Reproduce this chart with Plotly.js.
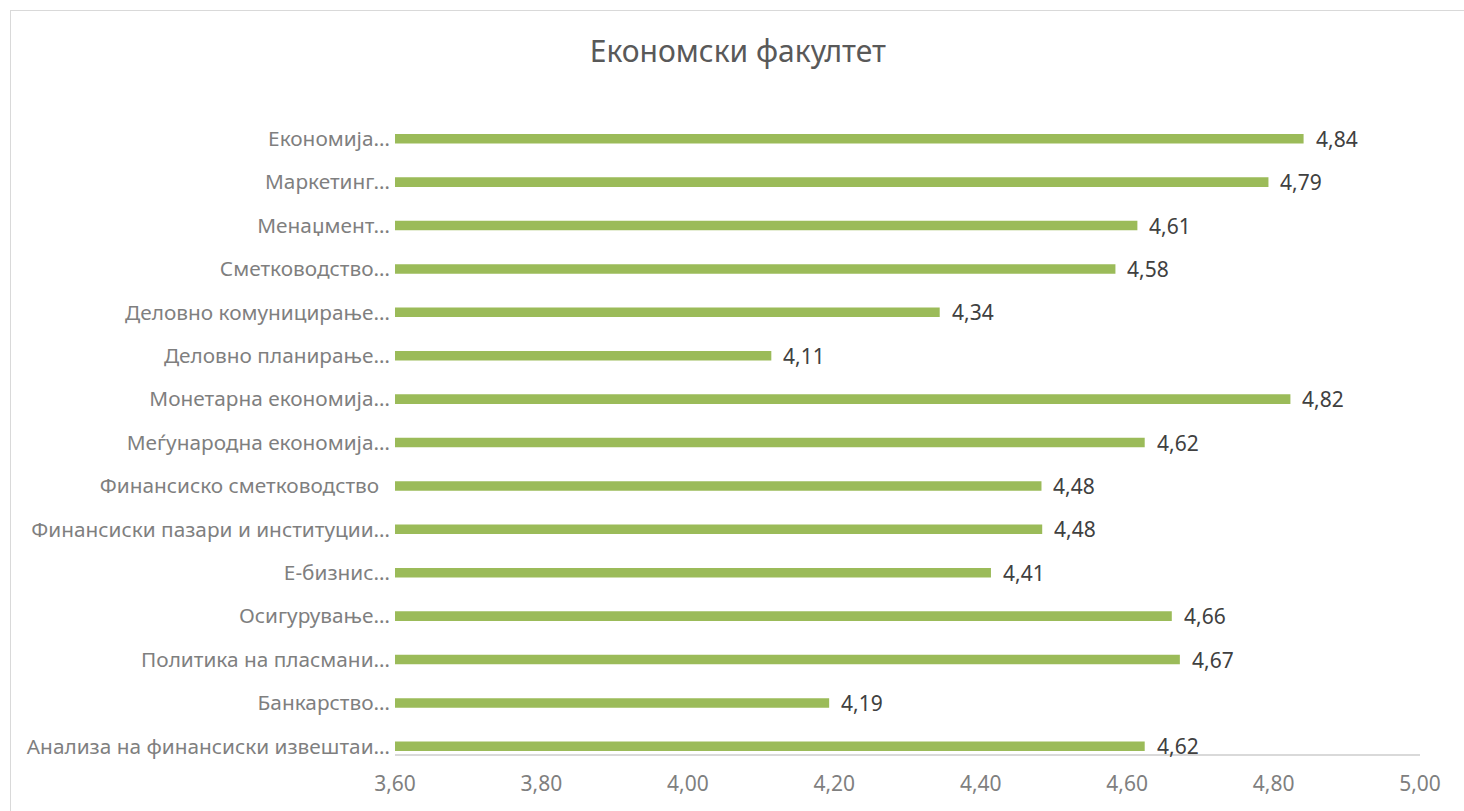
<!DOCTYPE html>
<html>
<head>
<meta charset="utf-8">
<script src="https://cdn.plot.ly/plotly-3.0.1.min.js"></script>
<style>
html,body{margin:0;padding:0;background:#fff;overflow:hidden;}
#chart{position:absolute;left:0;top:0;width:1464px;height:811px;}
#frame{position:absolute;left:10px;top:10px;width:1470px;height:820px;border:1px solid #d9d9d9;pointer-events:none;}
</style>
</head>
<body>
<div id="chart"></div>
<div id="frame"></div>
<script>
const chartTitle = "Економски факултет";
const categories = [
  "Економија…",
  "Маркетинг…",
  "Менаџмент…",
  "Сметководство…",
  "Деловно комуницирање…",
  "Деловно планирање…",
  "Монетарна економија…",
  "Меѓународна економија…",
  "Финансиско сметководство  ",
  "Финансиски пазари и институции…",
  "Е-бизнис…",
  "Осигурување…",
  "Политика на пласмани…",
  "Банкарство…",
  "Анализа на финансиски извештаи…"
];
const values = [4.841, 4.793, 4.614, 4.584, 4.344, 4.114, 4.823, 4.624, 4.483, 4.484, 4.414, 4.661, 4.672, 4.193, 4.624];
const xTicks = [3.6, 3.8, 4.0, 4.2, 4.4, 4.6, 4.8, 5.0];

const fmt = v => v.toFixed(2).replace('.', ',');
const FONT = "Noto Sans, Open Sans, sans-serif";

const trace = {
  type: 'bar',
  orientation: 'h',
  x: values.map(v => v - 3.6),
  base: 3.6,
  y: categories,
  width: 0.22,
  marker: {color: '#9BBB59'},
  hoverinfo: 'skip'
};

const annotations = values.map((v, i) => ({
  x: v, y: categories[i], xref: 'x', yref: 'y',
  text: fmt(v), showarrow: false, xanchor: 'left', xshift: 10,
  font: {family: FONT, size: 21, color: '#404040'}
}));

const layout = {
  width: 1464, height: 811,
  margin: {l: 395, r: 44, t: 103, b: 57},
  paper_bgcolor: '#ffffff', plot_bgcolor: '#ffffff',
  separators: ',.',
  showlegend: false,
  title: {text: chartTitle, x: 0.504, xref: 'container', xanchor: 'center', y: 0.936, yanchor: 'middle',
          font: {family: FONT, size: 30, color: '#595959'}},
  xaxis: {
    range: [3.6, 5.0], tickvals: xTicks, ticktext: xTicks.map(fmt),
    showgrid: false, zeroline: false, showline: true, linecolor: '#d9d9d9', linewidth: 2,
    ticks: '', ticklabelstandoff: 10,
    tickfont: {family: FONT, size: 21, color: '#7f7f7f'}, fixedrange: true
  },
  yaxis: {
    type: 'category', categoryorder: 'array', categoryarray: categories,
    range: [14.177, -0.823],
    showgrid: false, zeroline: false, showline: false, ticks: '',
    ticklabelstandoff: 4,
    tickfont: {family: FONT, size: 20.8, color: '#7f7f7f'}, fixedrange: true
  },
  annotations: annotations
};

Plotly.newPlot('chart', [trace], layout, {displayModeBar: false, staticPlot: true});
</script>
</body>
</html>
